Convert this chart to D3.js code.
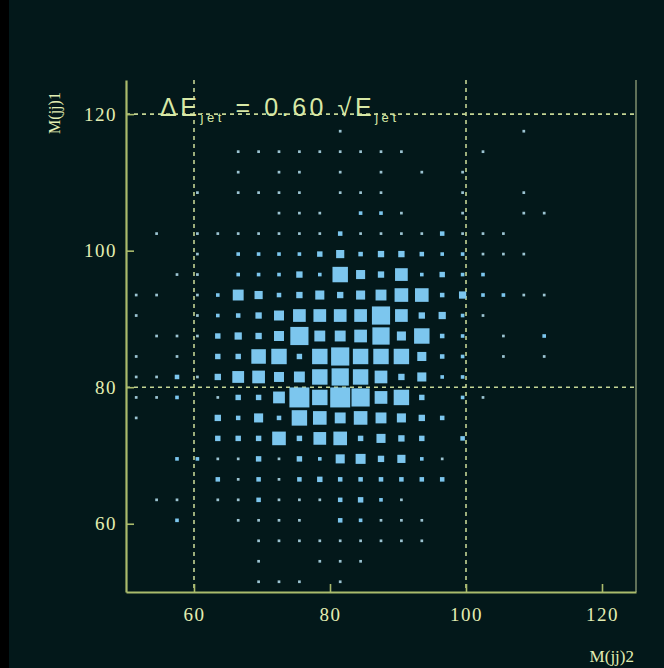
<!DOCTYPE html>
<html><head><meta charset="utf-8">
<script src="https://cdn.jsdelivr.net/npm/d3@7"></script>
<style>body{margin:0;background:#000;} svg{display:block}</style>
</head><body>
<svg id="c" width="664" height="668"></svg>
<script>
// ---- data ----
const binStart = 50, binWidth = 3, nBins = 25;
const xTicks = [60, 80, 100, 120];
const yTicks = [60, 80, 100, 120];
const xRefLines = [60, 100];
const yRefLines = [80, 120];
const annotation = {pre: "ΔE", sub: "jet", mid: " = 0.60 √E"};
const xTitle = "M(jj)2", yTitle = "M(jj)1";
// counts, rows listed from top (M1 bin 24) down to bottom (bin 0); columns = M2 bins 0..24
const countsTopDown = [
  [0,0,0,0,0,0,0,0,0,0,0,0,0,0,0,0,0,0,0,0,0,0,0,0,0],
  [0,0,0,0,0,0,0,0,0,0,0,0,0,0,0,0,0,0,0,0,0,0,0,0,0],
  [0,0,0,0,0,0,0,0,0,0,1,0,0,0,0,0,0,0,0,1,0,0,0,0,0],
  [0,0,0,0,0,1,1,1,1,1,1,1,1,1,0,0,0,1,0,0,0,0,0,0,0],
  [0,0,0,0,0,1,0,1,1,0,1,0,1,0,1,0,1,0,0,0,0,0,0,0,0],
  [0,0,0,1,0,1,1,1,1,0,1,1,1,0,0,0,1,0,0,1,0,0,0,0,0],
  [0,0,0,0,0,0,0,1,1,1,0,2,2,1,0,0,1,0,0,1,1,0,0,0,0],
  [0,1,0,1,1,1,1,1,1,1,3,1,1,1,1,3,1,1,1,0,0,0,0,0,0],
  [0,0,0,1,0,2,2,2,2,4,7,3,5,5,3,2,2,1,1,1,0,0,0,0,0],
  [0,0,1,1,0,2,2,2,5,2,15,8,5,12,2,4,2,2,0,0,0,0,0,0,0],
  [1,1,0,1,2,10,7,3,5,8,5,8,10,13,13,3,6,2,2,1,1,0,0,0,0],
  [1,0,0,1,2,3,5,9,12,12,12,12,18,12,5,6,2,1,0,0,0,0,0,0,0],
  [0,1,1,1,4,6,5,9,18,10,10,12,17,8,15,3,2,0,1,0,2,0,0,0,0],
  [1,0,1,0,4,4,14,15,4,15,18,15,15,15,8,3,2,0,1,0,1,0,0,0,0],
  [1,1,3,1,5,11,12,9,10,15,17,15,12,5,8,2,2,0,0,0,0,0,0,0,0],
  [1,1,2,0,1,4,4,11,20,15,20,18,12,15,4,0,2,1,0,0,0,0,0,0,0],
  [1,0,0,0,5,3,8,3,15,13,10,13,10,8,5,3,0,0,0,0,0,0,0,0,0],
  [0,0,0,0,4,4,4,13,4,12,13,4,8,5,4,0,3,0,0,0,0,0,0,0,0],
  [0,0,2,2,1,1,4,1,4,2,8,9,5,7,2,1,0,0,0,0,0,0,0,0,0],
  [0,0,0,0,3,1,3,1,3,4,3,3,3,3,3,3,0,0,0,0,0,0,0,0,0],
  [0,1,1,0,1,1,3,1,1,1,3,4,2,1,0,0,0,0,0,0,0,0,0,0,0],
  [0,0,2,0,0,1,1,1,1,0,3,2,1,1,1,0,0,0,0,0,0,0,0,0,0],
  [0,0,0,0,0,0,1,1,1,1,1,1,1,1,1,0,0,0,0,0,0,0,0,0,0],
  [0,0,0,0,0,0,1,0,0,1,1,1,0,0,0,0,0,0,0,0,0,0,0,0,0],
  [0,0,0,0,0,0,1,1,1,0,1,0,0,0,0,0,0,0,0,0,0,0,0,0,0]
];

// ---- drawing ----
const svg = d3.select("#c");
svg.append("rect").attr("x", 9).attr("y", 0).attr("width", 655).attr("height", 668).attr("fill", "#03181a");

const x = d3.scaleLinear().domain([50, 125]).range([126, 636]);
const y = d3.scaleLinear().domain([50, 125]).range([592, 80]);
const maxCount = d3.max(countsTopDown.flat());
const side = d3.scaleLinear().domain([0, maxCount]).range([1.8, (x(binStart + binWidth) - x(binStart)) * 0.98]);

const cells = [];
countsTopDown.forEach((row, r) => {
  const j = nBins - 1 - r;
  row.forEach((c, i) => { if (c > 0) cells.push({i, j, c}); });
});

const lineCol = "#aabb6c", dashCol = "#c4d494", textCol = "#e2eeb2";

// reference dashed lines
const gRef = svg.append("g").attr("stroke", dashCol).attr("stroke-width", 1.6).attr("stroke-dasharray", "4,4");
gRef.selectAll(".vr").data(xRefLines).join("line")
  .attr("x1", d => x(d)).attr("x2", d => x(d)).attr("y1", y(125)).attr("y2", y(50));
gRef.selectAll(".hr").data(yRefLines).join("line")
  .attr("y1", d => y(d)).attr("y2", d => y(d)).attr("x1", x(50)).attr("x2", x(125));

// boxes
svg.append("g").selectAll("rect").data(cells).join("rect")
  .attr("x", d => x(binStart + binWidth * d.i + binWidth / 2) - side(d.c) / 2)
  .attr("y", d => y(binStart + binWidth * d.j + binWidth / 2) - side(d.c) / 2)
  .attr("width", d => side(d.c)).attr("height", d => side(d.c))
  .attr("fill", d => d.c <= 1 ? "#9cc4d2" : "#7cc6ee");

// right frame line
svg.append("line").attr("x1", x(125)).attr("x2", x(125)).attr("y1", y(125)).attr("y2", y(50))
  .attr("stroke", "#5f7058").attr("stroke-width", 2);

// axes
const ax = svg.append("g").attr("transform", `translate(0,${y(50)})`)
  .call(d3.axisBottom(x).tickValues(xTicks).tickSize(-8).tickSizeOuter(0).tickPadding(12));
const ay = svg.append("g").attr("transform", `translate(${x(50)},0)`)
  .call(d3.axisLeft(y).tickValues(yTicks).tickSize(-8).tickSizeOuter(0).tickPadding(9));
[ax, ay].forEach(g => {
  g.select(".domain").attr("stroke", lineCol).attr("stroke-width", 2.2);
  g.selectAll(".tick line").attr("stroke", lineCol).attr("stroke-width", 1.6);
  g.selectAll(".tick text").attr("fill", textCol).attr("font-family", "Liberation Serif")
    .attr("font-size", 19).attr("letter-spacing", 1.5);
});
ax.selectAll(".tick text").attr("dy", "0.9em");

// annotation
const ann = svg.append("text").attr("x", 160).attr("y", 116)
  .attr("font-family", "Liberation Sans").attr("font-size", 25).attr("fill", "#d8e8a6")
  .attr("textLength", 236).attr("lengthAdjust", "spacing");
ann.append("tspan").text(annotation.pre);
ann.append("tspan").attr("font-size", 13).attr("dy", 6).text(annotation.sub);
ann.append("tspan").attr("dy", -6).text(annotation.mid);
ann.append("tspan").attr("font-size", 13).attr("dy", 6).text(annotation.sub);

// axis titles
svg.append("text").attr("transform", "translate(60,113) rotate(-90)").attr("text-anchor", "middle")
  .attr("font-family", "Liberation Serif").attr("font-size", 16).attr("fill", textCol).text(yTitle);
svg.append("text").attr("x", 634).attr("y", 662).attr("text-anchor", "end")
  .attr("font-family", "Liberation Serif").attr("font-size", 17).attr("fill", textCol).text(xTitle);
</script>
</body></html>
